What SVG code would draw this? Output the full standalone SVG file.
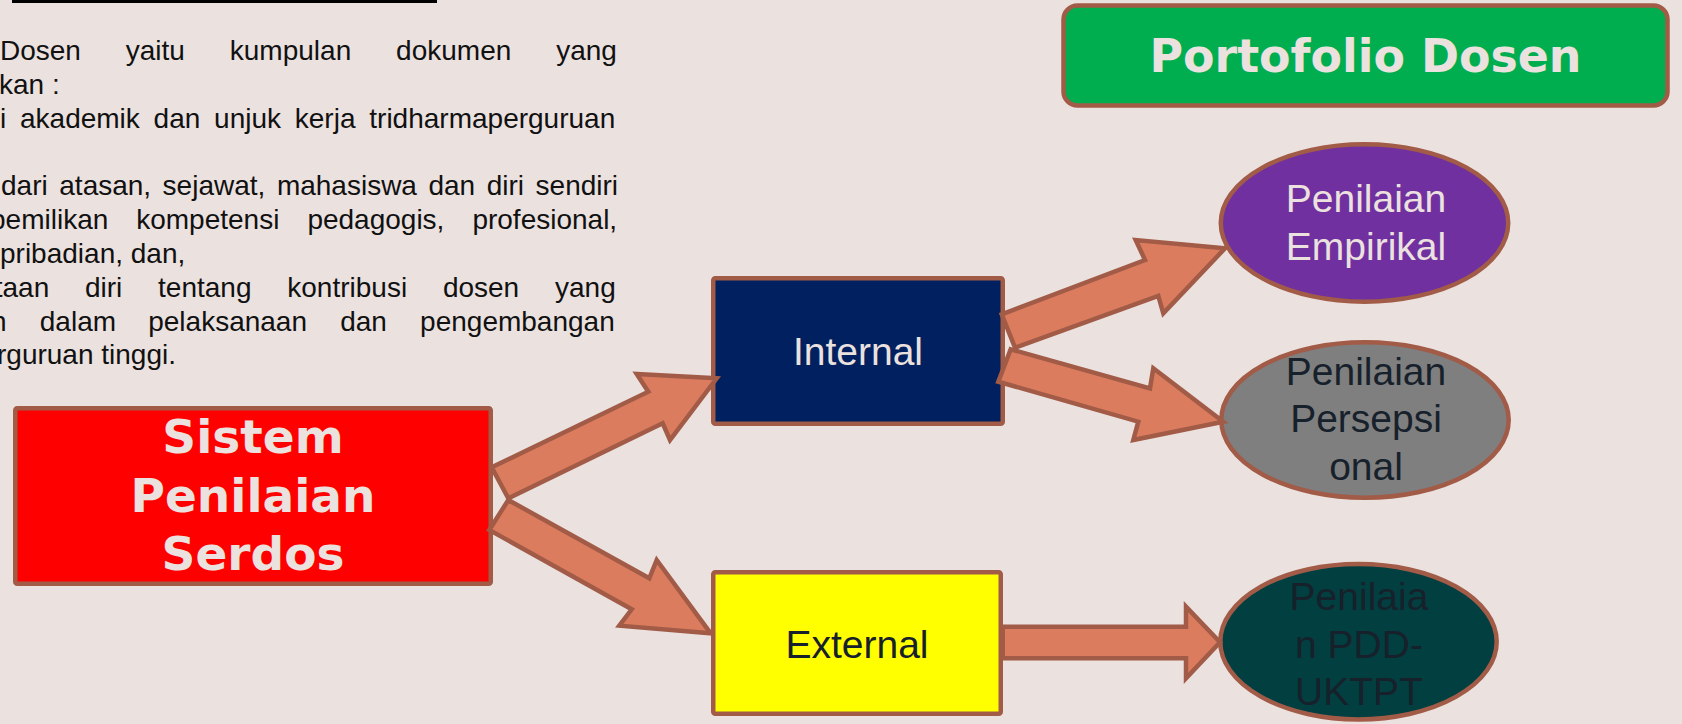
<svg xmlns="http://www.w3.org/2000/svg" width="1682" height="724" viewBox="0 0 1682 724">
<style>
.body{font-family:"Liberation Sans",Arial,sans-serif;font-size:28px;fill:#111}
.big{font-family:"DejaVu Sans",sans-serif;font-weight:bold;fill:#EBE1DF;text-anchor:middle}
.lbl{font-family:"Liberation Sans",Arial,sans-serif;font-size:39px;text-anchor:middle}
.light{fill:#EBE1DF}
.dark{fill:#17212B}
.node{stroke:#A15B47;stroke-width:4.5}
.arrow{fill:#DC7C5E;stroke:#A15B47;stroke-width:4.5;stroke-linejoin:miter}
</style>
<rect x="0" y="0" width="1682" height="724" fill="#EBE1DF"/>
<g id="text-block">
<line x1="12" y1="1.5" x2="437" y2="1.5" stroke="#000" stroke-width="3"/>
<text class="body" y="60"><tspan x="0">Dosen</tspan><tspan x="125.8">yaitu</tspan><tspan x="229.8">kumpulan</tspan><tspan x="396.1">dokumen</tspan><tspan x="556.2">yang</tspan></text>
<text class="body" x="-1" y="94">kan :</text>
<text class="body" y="128"><tspan x="0">i</tspan><tspan x="20">akademik</tspan><tspan x="153.6">dan</tspan><tspan x="214.1">unjuk</tspan><tspan x="294.8">kerja</tspan><tspan x="369.3">tridharmaperguruan</tspan></text>
<text class="body" y="195"><tspan x="1">dari</tspan><tspan x="59.3">atasan,</tspan><tspan x="162.6">sejawat,</tspan><tspan x="276.9">mahasiswa</tspan><tspan x="428.4">dan</tspan><tspan x="486.7">diri</tspan><tspan x="535.6">sendiri</tspan></text>
<text class="body" y="229"><tspan x="-10">pemilikan</tspan><tspan x="136.2">kompetensi</tspan><tspan x="307.4">pedagogis,</tspan><tspan x="472.4">profesional,</tspan></text>
<text class="body" x="0" y="263">pribadian, dan,</text>
<text class="body" y="297"><tspan x="-5.3">taan</tspan><tspan x="85">diri</tspan><tspan x="158.1">tentang</tspan><tspan x="287.3">kontribusi</tspan><tspan x="442.9">dosen</tspan><tspan x="555">yang</tspan></text>
<text class="body" y="331"><tspan x="-9">n</tspan><tspan x="39.8">dalam</tspan><tspan x="148.2">pelaksanaan</tspan><tspan x="340.2">dan</tspan><tspan x="420.1">pengembangan</tspan></text>
<text class="body" x="-3" y="364">rguruan tinggi.</text>
</g>
<g id="portofolio">
<rect class="node" x="1063.5" y="5.5" width="604" height="100" rx="14" fill="#00AE4F"/>
<text class="big" x="1365.5" y="72" font-size="47" textLength="432" lengthAdjust="spacingAndGlyphs">Portofolio Dosen</text>
</g>
<g id="sistem">
<rect class="node" x="15.25" y="408.25" width="475.5" height="175.5" rx="2" fill="#FF0000"/>
<text class="big" x="253" y="453" font-size="47">Sistem</text>
<text class="big" x="253" y="512" font-size="47">Penilaian</text>
<text class="big" x="253" y="570" font-size="47">Serdos</text>
</g>
<g id="internal">
<rect class="node" x="713.25" y="278.25" width="289.5" height="145.5" rx="2" fill="#00205F"/>
<text class="lbl light" x="858" y="365">Internal</text>
</g>
<g id="external">
<rect class="node" x="713.25" y="572.25" width="287.5" height="141.5" rx="2" fill="#FFFF00"/>
<text class="lbl dark" x="857" y="658">External</text>
</g>
<g id="empirikal">
<ellipse class="node" cx="1364.5" cy="223" rx="143.7" ry="78.7" fill="#7030A0"/>
<text class="lbl light" x="1366" y="212">Penilaian</text>
<text class="lbl light" x="1366" y="260">Empirikal</text>
</g>
<g id="persepsional">
<ellipse class="node" cx="1365" cy="420" rx="143.7" ry="77.7" fill="#7F7F7F"/>
<text class="lbl dark" x="1366" y="385">Penilaian</text>
<text class="lbl dark" x="1366" y="432">Persepsi</text>
<text class="lbl dark" x="1366" y="480">onal</text>
</g>
<g id="pdd">
<ellipse class="node" cx="1358.5" cy="641.7" rx="138.2" ry="77.7" fill="#013F40"/>
<text class="lbl dark" x="1359" y="610">Penilaia</text>
<text class="lbl dark" x="1359" y="658">n PDD-</text>
<text class="lbl dark" x="1359" y="705">UKTPT</text>
</g>
<g id="connectors">
<polygon class="arrow" points="491.7,467.3 648.3,391.7 636.7,374 716.7,378.3 670,440 662.7,423.3 508.3,498.3"/>
<polygon class="arrow" points="508.3,500 649.3,578.3 656.7,560 710.7,633.3 619.3,625.7 631.7,609.3 489.3,530"/>
<polygon class="arrow" points="1001.7,314.3 1145,260 1135.7,240 1225,248.3 1163.3,313.3 1158.3,296 1015,347.7"/>
<polygon class="arrow" points="1010.7,349.3 1150,388.3 1153.3,368.3 1223.3,421.7 1133.3,440 1138.3,421.7 998.3,381.7"/>
<polygon class="arrow" points="1002.7,626.7 1186,626.7 1186,606.7 1220,642.3 1186,678.3 1186,658.3 1002.7,658.3"/>
</g>
</svg>
